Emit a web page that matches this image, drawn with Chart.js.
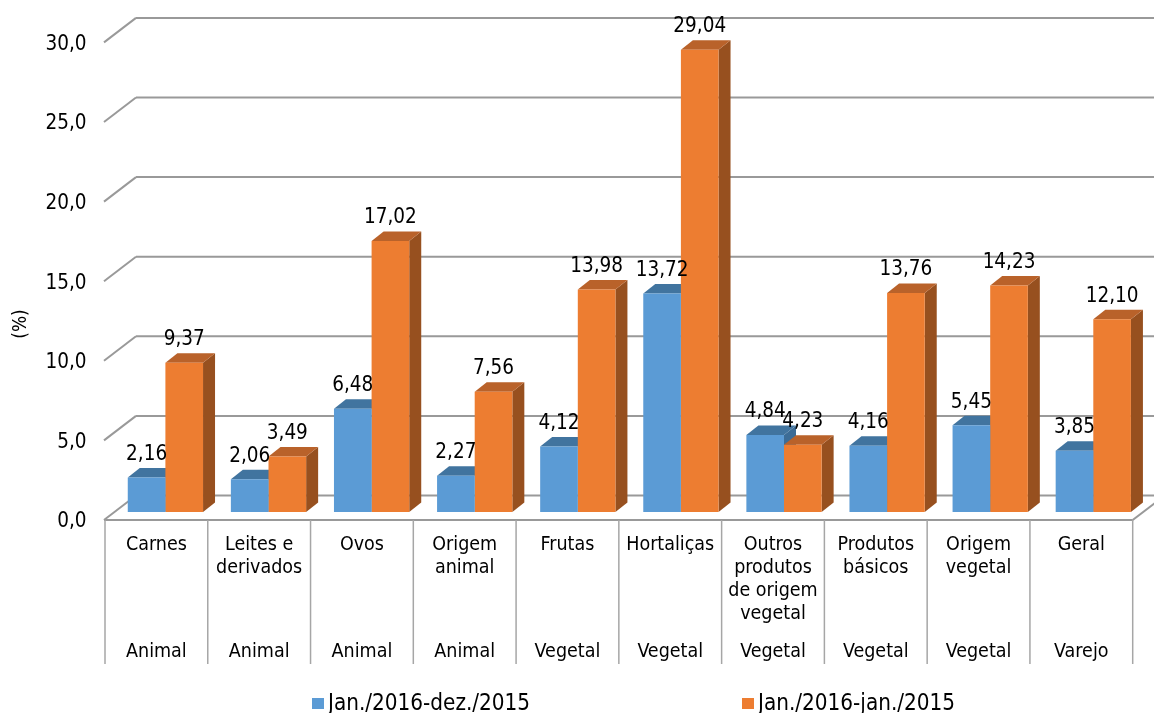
<!DOCTYPE html>
<html>
<head>
<meta charset="utf-8">
<title>Chart</title>
<script src="https://cdn.jsdelivr.net/npm/chart.js@4"></script>
<style>
  html, body { margin: 0; padding: 0; background: #fff; overflow: hidden; }
  canvas { display: block; }
</style>
</head>
<body>
<canvas id="myChart" width="1154" height="713"></canvas>
<script>
const categories = [
  ["Carnes"],
  ["Leites e", "derivados"],
  ["Ovos"],
  ["Origem", "animal"],
  ["Frutas"],
  ["Hortaliças"],
  ["Outros", "produtos", "de origem", "vegetal"],
  ["Produtos", "básicos"],
  ["Origem", "vegetal"],
  ["Geral"],
];
const groups = ["Animal", "Animal", "Animal", "Animal", "Vegetal", "Vegetal", "Vegetal", "Vegetal", "Vegetal", "Varejo"];
const seriesNames = ["Jan./2016-dez./2015", "Jan./2016-jan./2015"];
const decValues = [2.16, 2.06, 6.48, 2.27, 4.12, 13.72, 4.84, 4.16, 5.45, 3.85];
const janValues = [9.37, 3.49, 17.02, 7.56, 13.98, 29.04, 4.23, 13.76, 14.23, 12.10];

const FONT = '"DejaVu Sans Condensed", "DejaVu Sans"';
const GRID = "#999999";
const DEPTH_X = 12, DEPTH_Y = 9.5; // bar depth
const WALL_X = 32, WALL_Y = 24.5; // side wall depth
const FLOOR_DROP = 8; // front of floor sits below the bars
const CELL_LEFT = 105, CELL_W = 102.77, CELL_BOTTOM = 664;

const faces = [
  { top: "#41749f", side: "#3c6c96" },
  { top: "#b9622a", side: "#97501f" },
];

function line(ctx, x1, y1, x2, y2) {
  ctx.beginPath();
  ctx.moveTo(x1, y1);
  ctx.lineTo(x2, y2);
  ctx.stroke();
}

function poly(ctx, pts, color) {
  ctx.fillStyle = color;
  ctx.beginPath();
  pts.forEach((p, i) => (i ? ctx.lineTo(p[0], p[1]) : ctx.moveTo(p[0], p[1])));
  ctx.closePath();
  ctx.fill();
}

function text(ctx, str, x, y, font, align) {
  ctx.font = font;
  ctx.fillStyle = "#000";
  ctx.textAlign = align || "center";
  ctx.textBaseline = "middle";
  ctx.fillText(str, x, y);
}

const box3d = {
  id: "box3d",
  // walls, floor and the top/side faces of the bars, the fronts come from chart.js
  beforeDatasetsDraw(chart) {
    const ctx = chart.ctx;
    const y = chart.scales.y;
    ctx.save();
    ctx.strokeStyle = GRID;
    ctx.lineWidth = 2;
    y.ticks.forEach((t) => {
      const front = y.getPixelForValue(t.value) + FLOOR_DROP;
      const back = front - WALL_Y;
      line(ctx, CELL_LEFT - 1, front, CELL_LEFT - 1 + WALL_X, back);
      line(ctx, CELL_LEFT - 1 + WALL_X, back, chart.width, back);
    });
    // floor front edge and right corner
    const floor = y.getPixelForValue(0) + FLOOR_DROP;
    const right = CELL_LEFT + CELL_W * categories.length;
    line(ctx, CELL_LEFT - 1, floor, right, floor);
    line(ctx, right, floor, right + WALL_X, floor - WALL_Y);

    categories.forEach((c, j) => {
      chart.data.datasets.forEach((ds, i) => {
        const bar = chart.getDatasetMeta(i).data[j];
        const l = bar.x - bar.width / 2;
        const r = bar.x + bar.width / 2;
        poly(ctx, [[r, bar.y], [r + DEPTH_X, bar.y - DEPTH_Y], [r + DEPTH_X, bar.base - DEPTH_Y], [r, bar.base]], faces[i].side);
        poly(ctx, [[l, bar.y], [l + DEPTH_X, bar.y - DEPTH_Y], [r + DEPTH_X, bar.y - DEPTH_Y], [r, bar.y]], faces[i].top);
      });
    });
    ctx.restore();
  },
  afterDatasetsDraw(chart) {
    const ctx = chart.ctx;
    const y = chart.scales.y;
    ctx.save();

    // value labels
    chart.data.datasets.forEach((ds, i) => {
      chart.getDatasetMeta(i).data.forEach((bar, j) => {
        text(ctx, ds.data[j].toFixed(2).replace(".", ","), bar.x, bar.y - 23, "20.5px " + FONT);
      });
    });

    // y axis
    y.ticks.forEach((t) => {
      text(ctx, t.value.toFixed(1).replace(".", ","), 86.5, y.getPixelForValue(t.value) + FLOOR_DROP + 2, "20.5px " + FONT, "right");
    });
    ctx.save();
    ctx.translate(21, 324);
    ctx.rotate(-Math.PI / 2);
    text(ctx, "(%)", 0, 0, "19px " + FONT);
    ctx.restore();

    // two level category table
    const floor = y.getPixelForValue(0) + FLOOR_DROP;
    ctx.strokeStyle = "#a6a6a6";
    ctx.lineWidth = 1.5;
    for (let k = 0; k <= categories.length; k++) {
      const x = CELL_LEFT + CELL_W * k;
      line(ctx, x, floor, x, CELL_BOTTOM);
    }
    categories.forEach((lines, j) => {
      const cx = CELL_LEFT + CELL_W * (j + 0.5);
      lines.forEach((s, n) => text(ctx, s, cx, 545 + n * 23, "19.5px " + FONT));
      text(ctx, groups[j], cx, 652, "19.5px " + FONT);
    });

    // legend
    chart.data.datasets.forEach((ds, i) => {
      const x = i === 0 ? 312 : 742;
      ctx.fillStyle = ds.backgroundColor;
      ctx.fillRect(x, 698, 12, 11);
      text(ctx, ds.label, x + 16, 704, "22.3px " + FONT, "left");
    });
    ctx.restore();
  },
};

new Chart(document.getElementById("myChart").getContext("2d"), {
  type: "bar",
  data: {
    labels: categories.map((c) => c.join(" ")),
    datasets: [
      { label: seriesNames[0], data: decValues, backgroundColor: "#5b9bd5", borderWidth: 0, categoryPercentage: 0.73, barPercentage: 1 },
      { label: seriesNames[1], data: janValues, backgroundColor: "#ed7d31", borderWidth: 0, categoryPercentage: 0.73, barPercentage: 1 },
    ],
  },
  options: {
    responsive: false,
    animation: false,
    layout: { padding: { left: 113.85, right: 9.15, top: 34.4, bottom: 201 } },
    plugins: { legend: { display: false }, tooltip: { enabled: false } },
    scales: {
      x: {
        grid: { display: false },
        border: { display: false },
        ticks: { display: false },
        afterFit: (scale) => { scale.height = 0; },
      },
      y: {
        min: 0,
        max: 30,
        grid: { display: false },
        border: { display: false },
        ticks: { display: false, stepSize: 5 },
        afterFit: (scale) => { scale.width = 0; },
      },
    },
  },
  plugins: [box3d],
});
</script>
</body>
</html>
